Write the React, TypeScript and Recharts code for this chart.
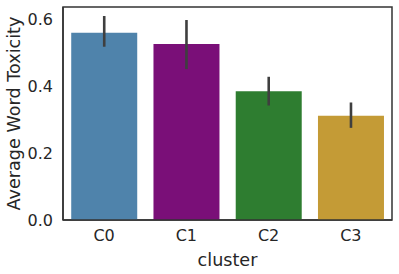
import { BarChart, Bar, Cell, XAxis, YAxis, ErrorBar, ReferenceArea } from 'recharts';

const clusters = ['C0', 'C1', 'C2', 'C3'];
const toxicity = [0.561, 0.527, 0.386, 0.312];
const ciLow = [0.519, 0.452, 0.343, 0.276];
const ciHigh = [0.611, 0.599, 0.429, 0.352];
const colors = ['#4f83ab', '#7a0f78', '#2e7d30', '#c49b36'];
const yTicks = [0, 0.2, 0.4, 0.6];
const yMax = 0.638;

const data = clusters.map((c, i) => ({
  cluster: c,
  value: toxicity[i],
  err: [toxicity[i] - ciLow[i], ciHigh[i] - toxicity[i]],
}));

const font = 'DejaVu Sans';
const tickStyle = { fill: '#262626', fontSize: 16, fontFamily: font };
const labelStyle = { ...tickStyle, fontSize: 17.6 };

export default function App() {
  return (
    <div style={{ position: 'absolute', left: 0, top: 0, background: 'white' }}>
      <BarChart
        width={399}
        height={274}
        data={data}
        margin={{ top: 7, right: 7, left: 0, bottom: 0 }}
        barCategoryGap="10%"
      >
        <XAxis
          dataKey="cluster"
          tickLine={false}
          tickSize={0}
          tickMargin={10}
          axisLine={{ stroke: '#333', strokeWidth: 1.5 }}
          tick={tickStyle}
          height={54}
          label={{ value: 'cluster', position: 'insideBottom', offset: 8, style: labelStyle }}
        />
        <YAxis
          domain={[0, yMax]}
          ticks={yTicks}
          tickFormatter={(v: number) => v.toFixed(1)}
          tickLine={false}
          tickSize={0}
          tickMargin={10}
          axisLine={{ stroke: '#333', strokeWidth: 1.5 }}
          tick={tickStyle}
          width={63}
          label={{ value: 'Average Word Toxicity', angle: -90, position: 'insideLeft', offset: 14, style: { ...labelStyle, textAnchor: 'middle' } }}
        />
        <ReferenceArea y1={0} y2={yMax} fill="none" stroke="#333" strokeWidth={1.5} ifOverflow="visible" />
        <Bar dataKey="value" isAnimationActive={false}>
          {data.map((d, i) => (
            <Cell key={d.cluster} fill={colors[i]} />
          ))}
          <ErrorBar dataKey="err" width={0} stroke="#3f3f3f" strokeWidth={2.6} direction="y" />
        </Bar>
      </BarChart>
    </div>
  );
}
